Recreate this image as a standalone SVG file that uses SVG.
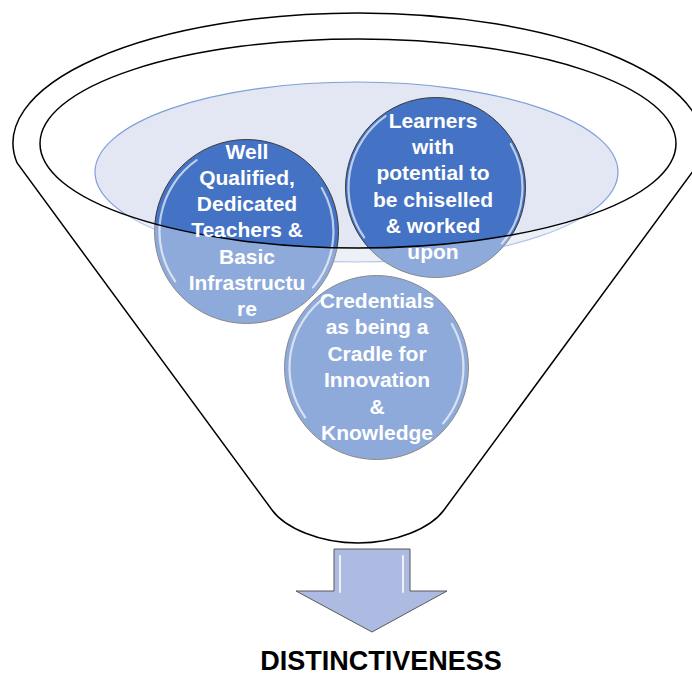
<svg xmlns="http://www.w3.org/2000/svg" xmlns:xlink="http://www.w3.org/1999/xlink" width="692" height="675" viewBox="0 0 692 675">
<style>
.ball{fill:#4472C4;stroke:#3a3a3a;stroke-width:1}
.gl{fill:none;stroke:#ffffff;stroke-width:2.2;stroke-opacity:0.65;stroke-linecap:round}
.lbl{font-family:"Liberation Sans",Arial,sans-serif;font-weight:bold;font-size:21px;fill:#ffffff;text-anchor:middle}
.edge{fill:none;stroke:#000000;stroke-width:1.5}
</style>
<defs>
<g id="gloss">
<path class="gl" d="M-71.3,49.9 A87,87 0 0 1 -49.9,-71.3"/>
<path class="gl" d="M75.3,-43.5 A87,87 0 0 1 66.6,55.9"/>
</g>
</defs>
<rect width="692" height="675" fill="#ffffff"/>
<g id="tray">
<ellipse cx="356.5" cy="172" rx="261.5" ry="90" fill="#E3E7F3" stroke="#7F9FD8" stroke-width="1.2"/>
</g>
<g id="n1">
<circle class="ball" cx="246.5" cy="231.5" r="92"/>
<use xlink:href="#gloss" href="#gloss" x="246.5" y="231.5"/>
</g>
<g id="n2">
<circle class="ball" cx="435.5" cy="187.5" r="90"/>
<use xlink:href="#gloss" href="#gloss" x="435.5" y="187.5"/>
</g>
<g id="n3">
<circle class="ball" cx="376.5" cy="367.5" r="92"/>
<use xlink:href="#gloss" href="#gloss" x="376.5" y="367.5"/>
</g>
<g id="funnel">
<path d="M17.1,163 A345,130 0 1 1 698.9,163 L444,510 C431,528 396,543 358,543 C320,543 285,528 272,510 Z M40,143.5 A318,104.5 0 1 0 676,143.5 A318,104.5 0 1 0 40,143.5 Z" fill="#ffffff" fill-opacity="0.4" fill-rule="evenodd"/>
<path class="edge" d="M17.1,163 A345,130 0 1 1 698.9,163 L444,510 C431,528 396,543 358,543 C320,543 285,528 272,510 Z"/>
<ellipse class="edge" cx="358" cy="143.5" rx="318" ry="104.5"/>
</g>
<g id="labels">
<text class="lbl" x="247" y="158.5">Well</text>
<text class="lbl" x="247" y="184.8">Qualified,</text>
<text class="lbl" x="247" y="211.1">Dedicated</text>
<text class="lbl" x="247" y="237.4">Teachers &amp;</text>
<text class="lbl" x="247" y="263.7">Basic</text>
<text class="lbl" x="247" y="290">Infrastructu</text>
<text class="lbl" x="247" y="316.3">re</text>
<text class="lbl" x="433" y="128">Learners</text>
<text class="lbl" x="433" y="154.2">with</text>
<text class="lbl" x="433" y="180.4">potential to</text>
<text class="lbl" x="433" y="206.6">be chiselled</text>
<text class="lbl" x="433" y="232.8">&amp; worked</text>
<text class="lbl" x="433" y="259">upon</text>
<text class="lbl" x="377" y="308">Credentials</text>
<text class="lbl" x="377" y="334.4">as being a</text>
<text class="lbl" x="377" y="360.8">Cradle for</text>
<text class="lbl" x="377" y="387.2">Innovation</text>
<text class="lbl" x="377" y="413.6">&amp;</text>
<text class="lbl" x="377" y="440">Knowledge</text>
</g>
<g id="arrow">
<path d="M334,549 L410,549 L410,591 L447,591 L372,632 L296,591 L334,591 Z" fill="#ADBBE3" stroke="#595959" stroke-width="1"/>
<path d="M340,556 L340,592 M403,556 L403,592" stroke="#ffffff" stroke-width="2" stroke-opacity="0.8" fill="none" stroke-linecap="round"/>
</g>
<g id="title">
<text x="381" y="670" font-family="'Liberation Sans',Arial,sans-serif" font-weight="bold" font-size="27" fill="#000000" text-anchor="middle">DISTINCTIVENESS</text>
</g>
</svg>
